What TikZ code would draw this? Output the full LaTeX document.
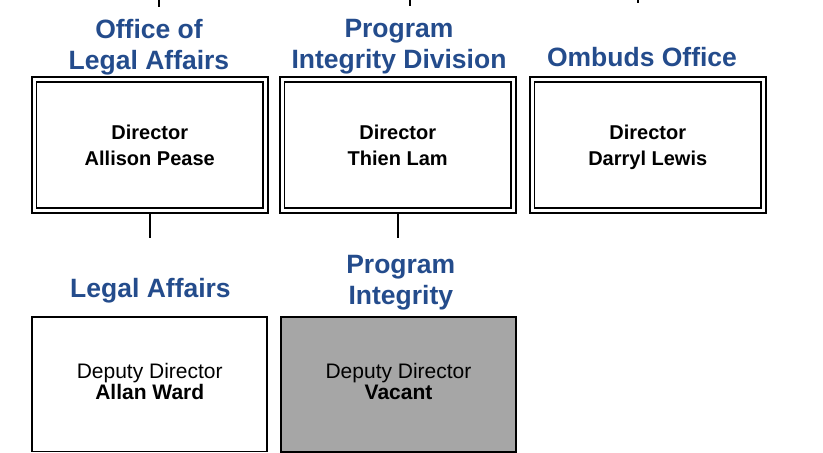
\documentclass[tikz,border=0pt]{standalone}
\usepackage{fontspec}
\setmainfont{Liberation Sans}
\definecolor{hdblue}{RGB}{36,76,140}
\definecolor{vacgray}{RGB}{166,166,166}
\begin{document}
\begin{tikzpicture}[x=1pt,y=-1pt,
  dirbox/.style={draw=black,line width=1.8pt,double=white,double distance=3pt,
    minimum width=231.5pt,minimum height=131pt,inner sep=0pt,outer sep=0pt,
    text height=40pt,text depth=0pt,
    align=center,font=\bfseries\fontsize{20}{25.5}\selectfont},
  depbox/.style={draw=black,line width=1.8pt,
    minimum width=235pt,minimum height=134.5pt,inner sep=0pt,outer sep=0pt,
    text height=30pt,text depth=0pt,
    align=center,font=\fontsize{21}{21}\selectfont},
  hdr/.style={text=hdblue,align=center,inner sep=0pt,anchor=base,
    font=\bfseries\fontsize{26.5}{31}\selectfont},
  conn/.style={draw=black,line width=1.6pt}]
\useasboundingbox (0,0) rectangle (823,453);
% top stubs
\coordinate (s1a) at (159,0); \coordinate (s1b) at (159,7);
\coordinate (s2a) at (410,0); \coordinate (s2b) at (410,6);
\coordinate (s3a) at (638,0); \coordinate (s3b) at (638,3);
\draw[conn] (s1a) -- (s1b);
\draw[conn] (s2a) -- (s2b);
\draw[conn] (s3a) -- (s3b);
% director boxes
\node[dirbox] (ola) at (149.75,145) {Director\\Allison Pease};
\node[dirbox] (pid) at (397.75,145) {Director\\Thien Lam};
\node[dirbox] (omb) at (647.75,145) {Director\\Darryl Lewis};
% headers
\node[hdr] (hola) at (149,69) {Office of\\Legal Affairs};
\node[hdr] (hpid) at (399,68.5) {Program\\Integrity Division};
\node[hdr] (homb) at (642,66) {Ombuds Office};
% deputy boxes
\node[depbox] (la) at (149.75,384.25) {Deputy Director\\\textbf{Allan Ward}};
\node[depbox,fill=vacgray] (pi) at (398.5,384.5) {Deputy Director\\\textbf{Vacant}};
\node[hdr] (hla) at (150.5,297) {Legal Affairs};
\node[hdr] (hpi) at (400.8,304) {Program\\Integrity};
% connectors
\coordinate (c1) at (149.75,238);
\coordinate (c2) at (397.75,238);
\draw[conn] (ola.south) ++(0,1.8) coordinate (ola s) (ola s) -- (c1);
\draw[conn] (pid.south) ++(0,1.8) coordinate (pid s) (pid s) -- (c2);
\end{tikzpicture}
\end{document}
